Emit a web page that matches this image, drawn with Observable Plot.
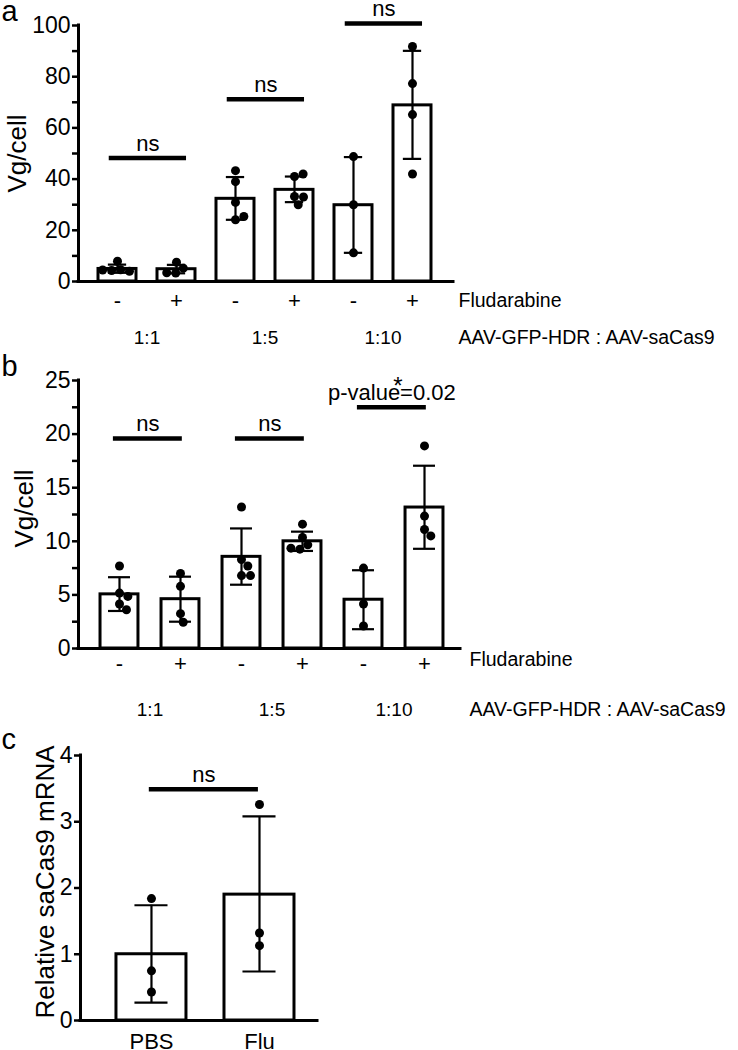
<!DOCTYPE html>
<html><head><meta charset="utf-8">
<script src="https://cdn.jsdelivr.net/npm/d3@7"></script>
<script src="https://cdn.jsdelivr.net/npm/@observablehq/plot@0.6"></script>
<style>
body{margin:0;background:#fff;}
#wrap{position:relative;width:738px;height:1050px;font-family:"Liberation Sans",Arial,sans-serif;}
#wrap svg{position:absolute;left:0;}
</style></head><body><div id="wrap"></div>
<script>
// ---------- data ----------
const ratios = ["1:1", "1:5", "1:10"];
const abSigns = ["-", "+", "-", "+", "-", "+"];
const sigPairs = [[0, 1], [2, 3], [4, 5]];

const aMean = [4.9, 4.8, 32.3, 35.8, 29.8, 68.8];
const aLow = [3.4, 3.2, 24.1, 31.0, 11.2, 47.9];
const aHigh = [6.6, 6.5, 40.8, 41.0, 48.6, 90.1];
const aPoints = [[7.9, 4.6, 4.3, 4.0, 4.5], [7.5, 5.2, 3.3, 3.4], [43.3, 39.0, 30.9, 24.1, 25.4],
                 [41.0, 42.0, 33.2, 33.0, 30.0], [48.8, 30.0, 11.2], [91.8, 77.3, 65.2, 42.0]];
const aSig = [48.2, 71.2, 100.8];
const aSigText = ["ns", "ns", "ns"];
const aYTicks = [0, 20, 40, 60, 80, 100];
const aYMinor = [10, 30, 50, 70, 90];

const bMean = [5.05, 4.6, 8.55, 10.0, 4.55, 13.15];
const bLow = [3.5, 2.5, 5.95, 9.1, 1.8, 9.3];
const bHigh = [6.65, 6.7, 11.2, 10.9, 7.3, 17.05];
const bPoints = [[7.7, 5.17, 4.86, 4.15, 3.62], [7.0, 5.8, 3.25, 2.45], [13.2, 8.3, 7.7, 6.8, 6.8],
                 [11.6, 10.35, 9.67, 9.27, 9.36], [7.5, 4.15, 2.1], [18.9, 12.35, 11.1, 10.5]];
const bSig = [19.6, 19.6, 22.5];
const bSigText = ["ns", "ns", "p-value=0.02"];
const bStar = "*";
const bYTicks = [0, 5, 10, 15, 20, 25];
const bYMinor = [2.5, 7.5, 12.5, 17.5, 22.5];

const cGroups = ["PBS", "Flu"];
const cMean = [1.0, 1.9];
const cLow = [0.27, 0.74];
const cHigh = [1.74, 3.08];
const cPoints = [[1.84, 0.75, 0.43], [3.26, 1.32, 1.13]];
const cSig = [3.49];
const cSigText = ["ns"];
const cSigPairs = [[0, 1]];
const cYTicks = [0, 1, 2, 3, 4];

const xTitle = "Fludarabine";
const ratioTitle = "AAV-GFP-HDR : AAV-saCas9";

// ---------- helpers ----------
const FONT = "Liberation Sans, Arial, Helvetica, sans-serif";
const R = 4.5;

function dodgeOffsets(vals, pxPerUnit, r) {
  const placed = [];
  return vals.map(v => {
    const y = v * pxPerUnit;
    const cands = [0];
    for (const p of placed) {
      const dy = y - p.y;
      if (Math.abs(dy) < 2 * r) {
        const dx = Math.sqrt(4 * r * r - dy * dy);
        cands.push(p.x + dx, p.x - dx);
      }
    }
    cands.sort((a, b) => Math.abs(a) - Math.abs(b));
    const x = cands.find(c => placed.every(p => (c - p.x) ** 2 + (y - p.y) ** 2 >= 4 * r * r - 0.01));
    placed.push({x, y});
    return x;
  });
}

function panel(cfg) {
  const W = 738;
  const ymax = cfg.yTicks[cfg.yTicks.length - 1];
  const pxPerUnit = (cfg.height - cfg.mt - cfg.mb) / ymax;
  const step = (W - cfg.ml - cfg.mr) / (cfg.xdom[1] - cfg.xdom[0]);
  const bars = cfg.mean.map((m, i) => ({i, mean: m, lo: cfg.low[i], hi: cfg.high[i]}));
  const pts = [];
  cfg.points.forEach((vals, i) => {
    const off = dodgeOffsets(vals, pxPerUnit, R);
    vals.forEach((v, k) => pts.push({x: i + off[k] / step, v}));
  });
  const sig = cfg.sig.map((y, k) => ({
    x1: cfg.pairs[k][0] + cfg.sigExt[0], x2: cfg.pairs[k][1] + cfg.sigExt[1], y, label: cfg.sigText[k]
  }));
  const marks = [
    Plot.rectY(bars, {x1: d => d.i - cfg.barHalf, x2: d => d.i + cfg.barHalf, y1: d => 0, y2: "mean",
      fill: "white", stroke: "black", strokeWidth: 3}),
    Plot.ruleX(bars, {x: "i", y1: "lo", y2: "hi", stroke: "black", strokeWidth: 2.2}),
    Plot.ruleY(bars, {y: "lo", x1: d => d.i - cfg.capHalf, x2: d => d.i + cfg.capHalf, stroke: "black", strokeWidth: 2.2}),
    Plot.ruleY(bars, {y: "hi", x1: d => d.i - cfg.capHalf, x2: d => d.i + cfg.capHalf, stroke: "black", strokeWidth: 2.2}),
    Plot.dot(pts, {x: "x", y: "v", r: R, fill: "black", stroke: "none"}),
    Plot.ruleY([0], {stroke: "black", strokeWidth: 3, strokeLinecap: "square"}),
    Plot.ruleX([cfg.xdom[0]], {y1: d => 0, y2: d => ymax, stroke: "black", strokeWidth: 3, strokeLinecap: "square"}),
    Plot.axisY({ticks: cfg.yTicks, tickFormat: d => String(d), tickSize: 6, tickPadding: 2, fontSize: 23,
      strokeWidth: 2.5, label: null}),
    Plot.axisX({ticks: bars.map(d => d.i), tickFormat: i => cfg.xLabels[i], tickSize: 0,
      tickPadding: cfg.tickPad, fontSize: cfg.xFont, label: null}),
    Plot.ruleY(sig, {x1: "x1", x2: "x2", y: "y", stroke: "black", strokeWidth: 4.5}),
    Plot.text(sig, {x: d => (d.x1 + d.x2) / 2, y: "y", text: "label", lineAnchor: "bottom", dy: -7,
      fontSize: 22, fill: "black"}),
    Plot.text([cfg.letter], {text: d => d, frameAnchor: "top-left", dx: 1 - cfg.ml, dy: cfg.letterBase - cfg.mt,
      textAnchor: "start", lineAnchor: "bottom", fontSize: 29, fill: "black"}),
    Plot.text([cfg.ylabel], {text: d => d, frameAnchor: "left", dx: cfg.ylabelX - cfg.ml, dy: cfg.ylabelDy,
      rotate: -90, textAnchor: "middle", lineAnchor: "bottom", fontSize: 26, fill: "black"})
  ];
  if (cfg.yMinor) marks.push(Plot.axisY({ticks: cfg.yMinor, tickFormat: () => "", tickSize: 6, strokeWidth: 2.5, label: null}));
  if (cfg.ratios) {
    marks.push(
      Plot.text(cfg.ratios, {text: d => d, x: (d, k) => 2 * k + 0.5, frameAnchor: "bottom", dy: cfg.ratioDy,
        lineAnchor: "bottom", fontSize: 19, fill: "black"}),
      Plot.text([xTitle], {text: d => d, frameAnchor: "bottom-right", dx: cfg.titleDx, dy: cfg.fludDy,
        textAnchor: "start", lineAnchor: "bottom", fontSize: 19.5, fill: "black"}),
      Plot.text([ratioTitle], {text: d => d, frameAnchor: "bottom-right", dx: cfg.titleDx, dy: cfg.ratioDy,
        textAnchor: "start", lineAnchor: "bottom", fontSize: 19.5, fill: "black"})
    );
  }
  if (cfg.star) {
    const s = sig[sig.length - 1];
    marks.push(Plot.text([cfg.star], {text: d => d, x: () => (s.x1 + s.x2) / 2, y: () => s.y, dx: 6, dy: -13,
      lineAnchor: "bottom", fontSize: 24, fill: "black"}));
  }
  const svg = Plot.plot({
    width: W, height: cfg.height,
    marginTop: cfg.mt, marginBottom: cfg.mb, marginLeft: cfg.ml, marginRight: cfg.mr,
    style: {fontFamily: FONT, background: "transparent", overflow: "visible", color: "black"},
    x: {type: "linear", domain: cfg.xdom, axis: null},
    y: {domain: [0, ymax], axis: null},
    marks
  });
  svg.style.top = cfg.top + "px";
  return svg;
}

const wrap = document.getElementById("wrap");
wrap.append(panel({
  top: 0, height: 350, mt: 25, mb: 69, ml: 78, mr: 285, xdom: [-0.661, 5.695],
  mean: aMean, low: aLow, high: aHigh, points: aPoints, yTicks: aYTicks, yMinor: aYMinor,
  xLabels: abSigns, xFont: 22, tickPad: 11, barHalf: 0.322, capHalf: 0.155,
  sig: aSig, sigText: aSigText, pairs: sigPairs, sigExt: [-0.14, 0.17],
  letter: "a", letterBase: 20, ylabel: "Vg/cell", ylabelX: 25, ylabelDy: 0,
  ratios, ratioDy: 62, fludDy: 25, titleDx: 5
}));
wrap.append(panel({
  top: 350, height: 380, mt: 30, mb: 82, ml: 78, mr: 278, xdom: [-0.672, 5.59],
  mean: bMean, low: bLow, high: bHigh, points: bPoints, yTicks: bYTicks, yMinor: bYMinor,
  xLabels: abSigns, xFont: 22, tickPad: 7, barHalf: 0.311, capHalf: 0.18,
  sig: bSig, sigText: bSigText, pairs: sigPairs, sigExt: [-0.1, 0.03], star: bStar,
  letter: "b", letterBase: 25, ylabel: "Vg/cell", ylabelX: 32, ylabelDy: -6,
  ratios, ratioDy: 67, fludDy: 17, titleDx: 9
}));
wrap.append(panel({
  top: 730, height: 320, mt: 25, mb: 30, ml: 80, mr: 421, xdom: [-0.657, 1.537],
  mean: cMean, low: cLow, high: cHigh, points: cPoints, yTicks: cYTicks, yMinor: null,
  xLabels: cGroups, xFont: 22, tickPad: 12.5, barHalf: 0.324, capHalf: 0.153,
  sig: cSig, sigText: cSigText, pairs: cSigPairs, sigExt: [-0.02, -0.01],
  letter: "c", letterBase: 18, ylabel: "Relative saCas9 mRNA", ylabelX: 53, ylabelDy: -6
}));
</script></body></html>
